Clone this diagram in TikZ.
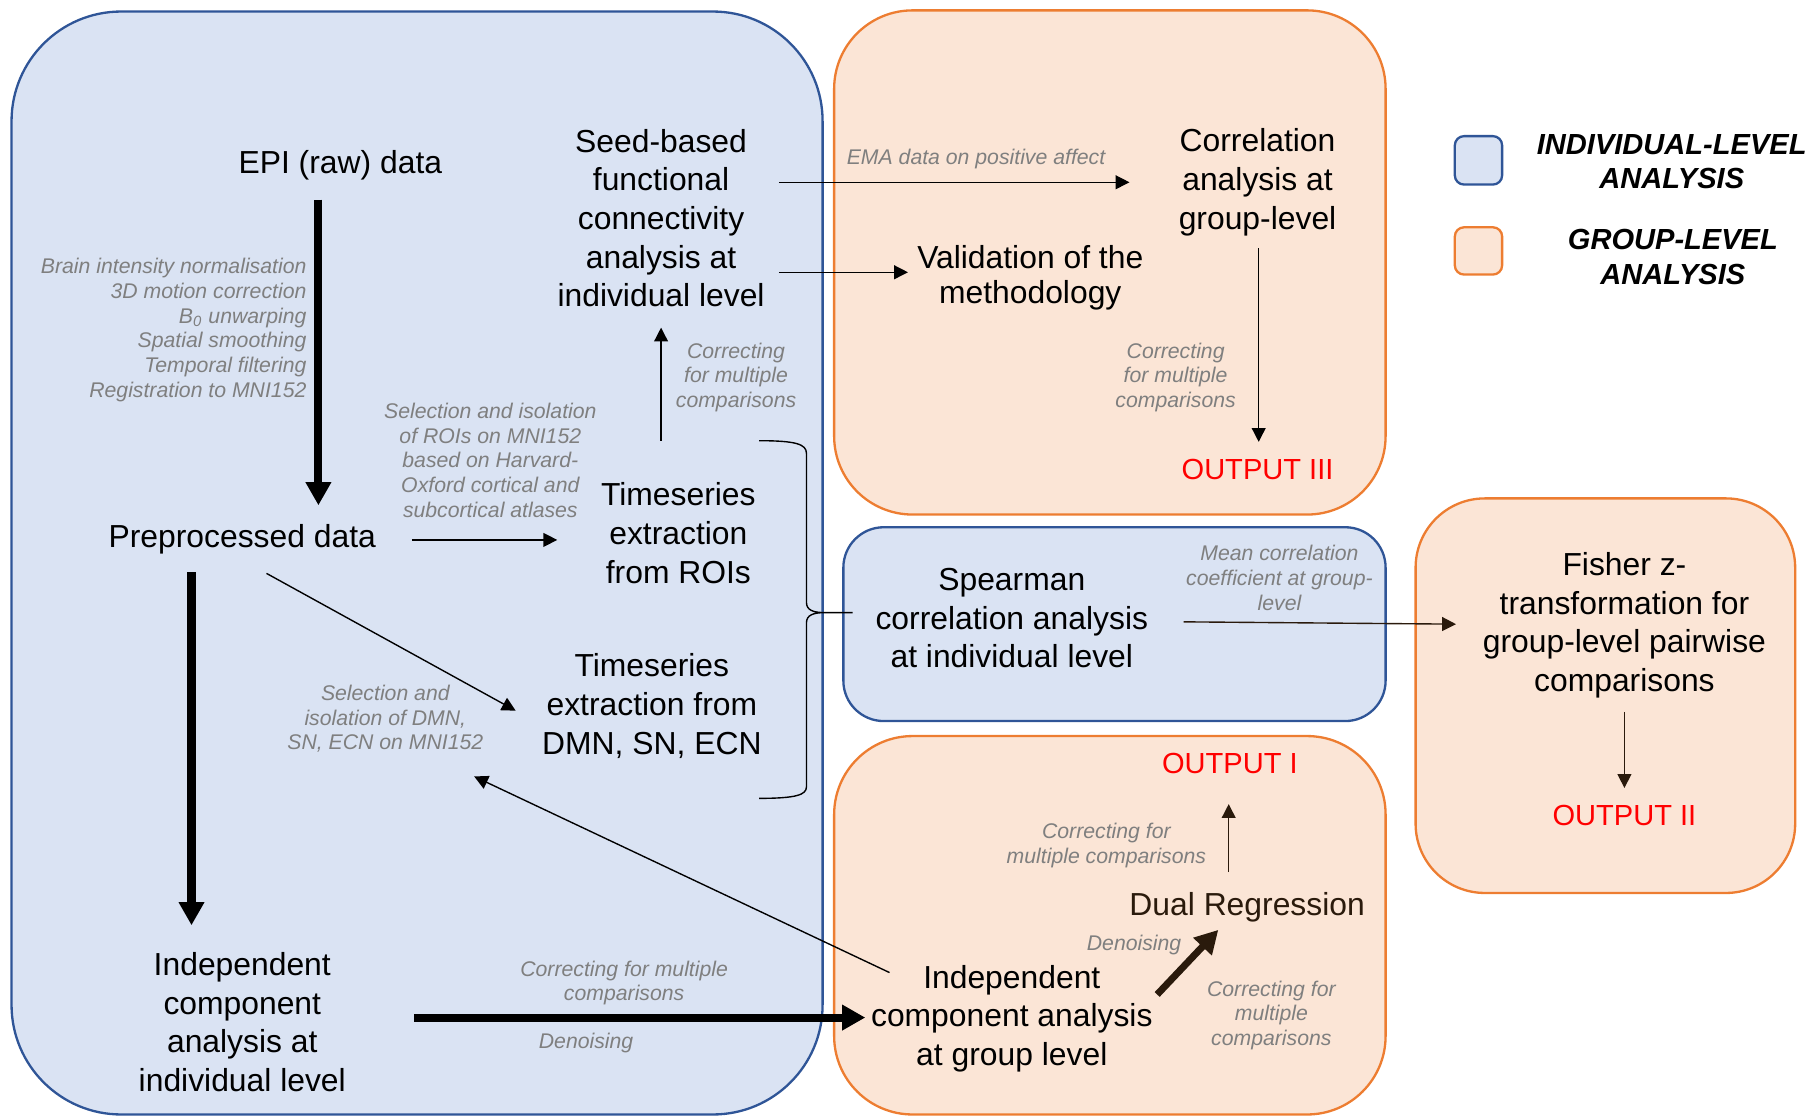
\documentclass[tikz,border=0pt]{standalone}
\usepackage{fontspec}
\setmainfont{Liberation Sans}
\usetikzlibrary{calc}
\usetikzlibrary{arrows.meta}
\definecolor{indiv-fill}{HTML}{DAE3F3}
\definecolor{indiv-line}{HTML}{2F5597}
\definecolor{group-fill}{HTML}{FBE5D6}
\definecolor{group-line}{HTML}{ED7D31}
\definecolor{note-gray}{HTML}{7F7F7F}
\definecolor{dark-brown}{HTML}{2A1A0C}
\tikzstyle{indivbox}=[fill=indiv-fill,draw=indiv-line,line width=1pt]
\tikzstyle{groupbox}=[fill=group-fill,draw=group-line,line width=1pt]
\tikzstyle{stage}=[align=center,inner sep=0pt,font=\fontsize{13.8}{16.75}\selectfont]
\tikzstyle{note}=[align=center,inner sep=0pt,text=note-gray,font=\fontsize{9.2}{10.7}\selectfont\itshape]
\tikzstyle{outlabel}=[inner sep=0pt,text=red,font=\fontsize{12.6}{15}\selectfont]
\tikzstyle{legendtext}=[align=center,inner sep=0pt,font=\fontsize{12.6}{15}\selectfont\bfseries\itshape]
\tikzstyle{bigarrow}=[line width=3.5pt,-{Triangle[length=10pt,width=10.5pt]}]
\tikzstyle{smallarrow}=[line width=0.6pt,-{Triangle[length=6pt,width=6pt]}]

\begin{document}
\begin{tikzpicture}[x=0.5pt,y=-0.5pt]
\useasboundingbox (0,0) rectangle (1568,967);
% boxes
\draw[indivbox,rounded corners=47.5pt] (10,10) rectangle (713,966);
\draw[groupbox,rounded corners=34pt] (723,9) rectangle (1201,446);
\draw[indivbox,rounded corners=17.5pt] (731,457) rectangle (1201,625);
\draw[groupbox,rounded corners=34pt] (723,638) rectangle (1201,966);
\draw[groupbox,rounded corners=30pt] (1227,432) rectangle (1556,774);
% legend
\draw[indivbox,rounded corners=4pt] (1261,118) rectangle (1302,160);
\draw[groupbox,rounded corners=4pt] (1261,197) rectangle (1302,238);
\node[legendtext] (leg-ind) at (1449,140) {INDIVIDUAL-LEVEL\\ANALYSIS};
\node[legendtext] (leg-grp) at (1450,223) {GROUP-LEVEL\\ANALYSIS};

% individual level steps
\node[stage] (epi) at (295,143) {EPI (raw) data};
\node[stage] (prep) at (210,467) {Preprocessed data};
\node[stage] (icaind) at (210,886) {Independent\\component\\analysis at\\individual level};
\node[stage] (seed) at (573,189) {Seed-based\\functional\\connectivity\\analysis at\\individual level};
\node[stage] (tsroi) at (588,462) {Timeseries\\extraction\\from ROIs};
\node[stage] (tsnet) at (565,612) {Timeseries\\extraction from\\DMN, SN, ECN};
\node[stage] (spear) at (877,536) {Spearman\\correlation analysis\\at individual level};
% group level steps
\node[stage] (corr) at (1090,158) {Correlation\\analysis at\\group-level};
\node[stage,font=\fontsize{13.8}{15}\selectfont] (valid) at (893,241) {Validation of the\\methodology};
\node[stage] (fisher) at (1408,542) {Fisher z-\\transformation for\\group-level pairwise\\comparisons};
\node[stage] (icagrp) at (877,883) {Independent\\component analysis\\at group level};
\node[stage,text=dark-brown] (dual) at (1081,786) {Dual Regression};
\node[outlabel] (out3) at (1090,407) {OUTPUT III};
\node[outlabel] (out2) at (1408,707) {OUTPUT II};
\node[outlabel] (out1) at (1066,662) {OUTPUT I};

% grey notes
\node[note,align=right,anchor=east] (n-prep) at (266,286) {Brain intensity normalisation\\3D motion correction\\B\textsubscript{0} unwarping\\Spatial smoothing\\Temporal filtering\\Registration to MNI152};
\node[note] (n-roi) at (425,399) {Selection and isolation\\of ROIs on MNI152\\based on Harvard-\\Oxford cortical and\\subcortical atlases};
\node[note] (n-seed) at (638,327) {Correcting\\for multiple\\comparisons};
\node[note] (n-ema) at (846,138) {EMA data on positive affect};
\node[note] (n-corr) at (1019,327) {Correcting\\for multiple\\comparisons};
\node[note] (n-mean) at (1109,501) {Mean correlation\\coefficient at group-\\level};
\node[note] (n-net) at (334,623) {Selection and\\isolation of DMN,\\SN, ECN on MNI152};
\node[note] (n-icaind) at (541,852) {Correcting for multiple\\comparisons};
\node[note] (n-den1) at (508,904) {Denoising};
\node[note] (n-out1) at (959,733) {Correcting for\\multiple comparisons};
\node[note] (n-den2) at (983,819) {Denoising};
\node[note] (n-dual) at (1102,880) {Correcting for\\multiple\\comparisons};

% thick arrows
\draw[bigarrow] ($(epi)+(-19,30)$) -- ($(prep)+(66,-29)$);
\draw[bigarrow] ($(prep)+(-44,29)$) -- ($(icaind)+(-44,-84)$);
\draw[bigarrow] ($(icaind)+(149,-4)$) -- ($(icagrp)+(-127,-1)$);
\draw[bigarrow,dark-brown,line width=3pt] ($(icagrp)+(126,-21)$) -- ($(dual)+(-25,20)$);
% thin arrows
\draw[smallarrow] ($(prep)+(147,1)$) -- ($(tsroi)+(-105,6)$);
\draw[smallarrow] ($(prep)+(21,30)$) -- ($(tsnet)+(-118,4)$);
\draw[smallarrow] ($(tsroi)+(-15,-80)$) -- ($(seed)+(0,95)$);
\draw[smallarrow] ($(seed)+(102,-31)$) -- ($(corr)+(-111,0)$);
\draw[smallarrow] ($(seed)+(102,47)$) -- ($(valid)+(-106,-5)$);
\draw[smallarrow] ($(corr)+(1,57)$) -- ($(out3)+(1,-24)$);
\draw[smallarrow,dark-brown] ($(spear)+(149,3)$) -- ($(fisher)+(-146,-1)$);
\draw[smallarrow,dark-brown] ($(fisher)+(0,75)$) -- ($(out2)+(0,-24)$);
\draw[smallarrow] ($(icagrp)+(-106,-40)$) -- ($(n-net)+(77,50)$);
\draw[smallarrow,dark-brown] ($(dual)+(-16,-30)$) -- ($(out1)+(-1,35)$);
% brace joining the two timeseries
\draw[line width=0.6pt] (658,382) .. controls (690,382) and (699,385) .. (699,393) -- (699,522)
  .. controls (699,529) and (705,531) .. (715,531) -- (739,531) -- (715,531)
  .. controls (705,531) and (699,533) .. (699,540) -- (699,682)
  .. controls (699,689) and (690,692) .. (658,692);
\end{tikzpicture}
\end{document}
